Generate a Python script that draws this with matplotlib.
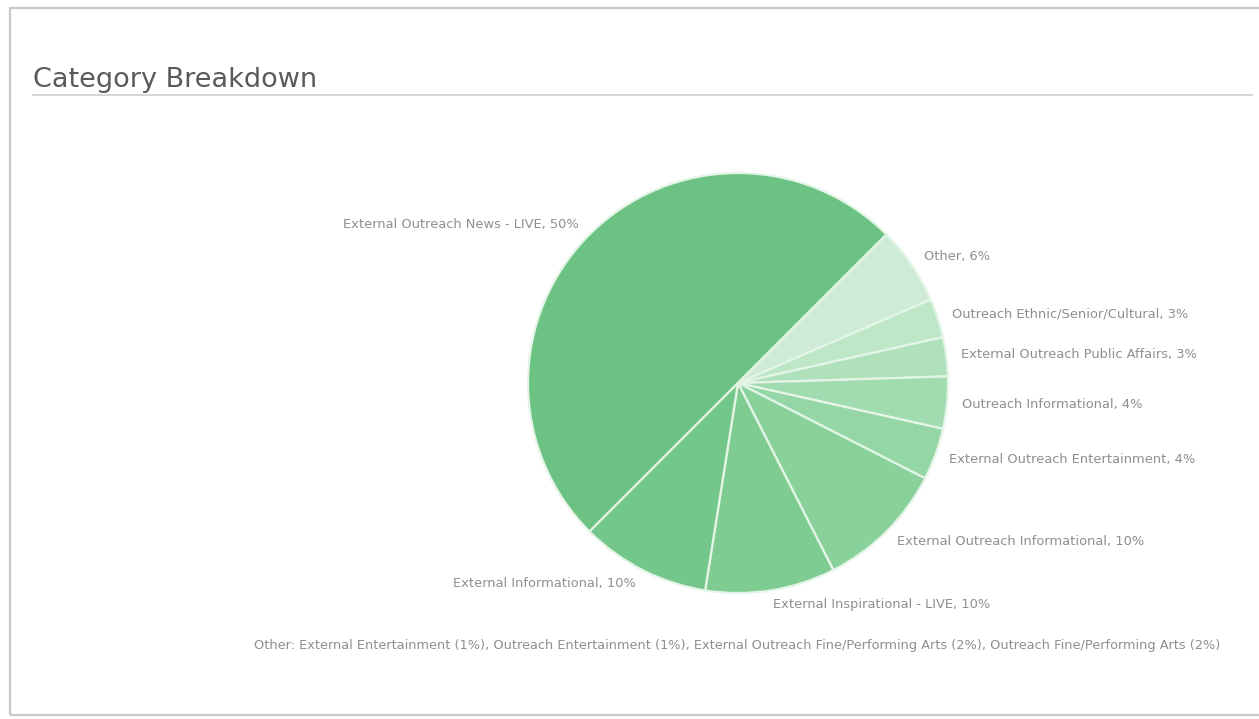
import matplotlib.pyplot as plt
from matplotlib.lines import Line2D
from matplotlib.patches import Rectangle

categories = [
    "External Outreach News - LIVE",
    "Other",
    "Outreach Ethnic/Senior/Cultural",
    "External Outreach Public Affairs",
    "Outreach Informational",
    "External Outreach Entertainment",
    "External Outreach Informational",
    "External Inspirational - LIVE",
    "External Informational",
]
shares = [50, 6, 3, 3, 4, 4, 10, 10, 10]
colors = [
    "#6cc282", "#cdebd5", "#bde7c7", "#afe1bb", "#a1dbb0",
    "#94d6a5", "#88d19b", "#7ecc92", "#74c78a",
]
other_note = ("Other: External Entertainment (1%), Outreach Entertainment (1%), "
              "External Outreach Fine/Performing Arts (2%), Outreach Fine/Performing Arts (2%)")

W, H = 1259, 719
fig = plt.figure(figsize=(W / 100, H / 100), dpi=100)
fig.patch.set_facecolor("white")

# panel border (left, top, bottom edges) and title rule
fig.add_artist(Rectangle((10 / W, 4 / H), 1.2, (H - 12) / H, transform=fig.transFigure,
                         fill=False, edgecolor="#c8c8c8", linewidth=1.6))
fig.add_artist(Line2D([33 / W, 1252 / W], [1 - 95 / H, 1 - 95 / H], transform=fig.transFigure,
                      color="#cfcfcf", linewidth=1.2))
fig.text(33 / W, 1 - 87 / H, "Category Breakdown", fontsize=19.5, color="#5a5a5a",
         ha="left", va="baseline", family="DejaVu Sans")

# pie centred at (738, 383) px, radius 210 px
cx, cy, r = 738, 383, 210
ax = fig.add_axes([(cx - r) / W, (H - cy - r) / H, 2 * r / W, 2 * r / H])
labels = [f"{c}, {s}%" for c, s in zip(categories, shares)]
wedges, texts = ax.pie(
    shares, labels=labels, colors=colors, startangle=225, counterclock=False,
    labeldistance=1.07, radius=1,
    wedgeprops=dict(edgecolor="#e4f5e8", linewidth=1.6),
    textprops=dict(fontsize=9.4, color="#8f8f8f"),
)
ax.set_xlim(-1, 1)
ax.set_ylim(-1, 1)
ax.set_aspect("equal")
ax.axis("off")

fig.text(737 / W, 1 - 646 / H, other_note, fontsize=9.3, color="#8f8f8f",
         ha="center", va="center")

fig.savefig("out.png", dpi=100, facecolor="white")
